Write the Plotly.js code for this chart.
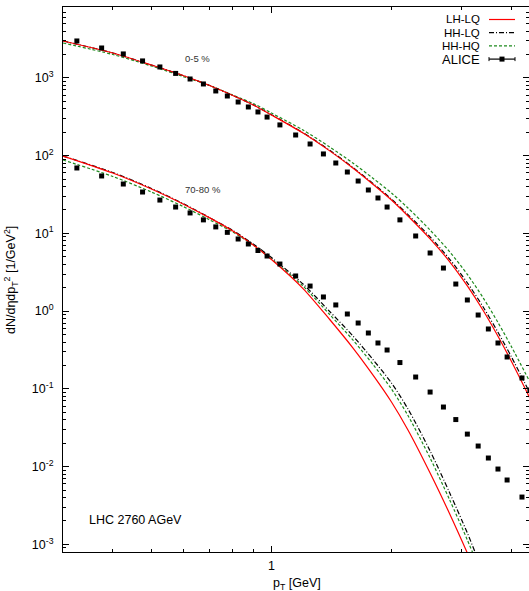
<!DOCTYPE html>
<html><head><meta charset="utf-8">
<script src="https://cdn.plot.ly/plotly-3.0.1.min.js"></script>
<style>html,body{margin:0;padding:0;background:#fff;overflow:hidden}</style>
</head><body><div id="chart" style="width:529px;height:591px"></div>
<script>
// ---------- data ----------
const pT_alice = [0.325,0.375,0.425,0.475,0.525,0.575,0.625,0.675,0.725,0.775,0.825,0.875,0.925,0.975,
  1.05,1.15,1.25,1.35,1.45,1.55,1.65,1.75,1.85,1.95,2.1,2.3,2.5,2.7,2.9,3.1,3.3,3.5,3.7,3.9,4.25,4.45];
const alice_0_5 = [2980,2420,2030,1650,1380,1140,966,834,678,584,489,422,364,313,
  248,184,141,105,80.3,61.5,47.1,36.1,28.5,21.8,14.9,9.25,5.59,3.58,2.23,1.39,0.891,0.589,0.389,0.257,0.138,0.0967];
const alice_70_80 = [69.3,54.7,43.1,34.0,26.8,21.8,18.3,14.9,12.1,10.3,8.46,7.30,6.02,5.11,
  4.03,2.83,2.10,1.52,1.20,0.918,0.703,0.523,0.389,0.316,0.218,0.142,0.091,0.0584,0.0403,0.0262,0.0184,0.0129,0.00931,0.00673,0.00406];

const pT_model_central = [0.3,0.4,0.5,0.6,0.7,0.8,0.9,1.0,1.2,1.4,1.6,1.8,2.0,2.2,2.5,2.8,3.1,3.4,3.7,4.0,4.45];
const lhlq_0_5 = [2980,2089,1463,1072,797,593,448,333,195,115,69.3,42.5,26.8,16.7,8.49,4.31,2.11,1.01,0.475,0.225,0.0759];
const hhlq_0_5 = [2980,2089,1463,1072,797,593,450,336,197,117,70.5,43.5,27.6,17.4,9.01,4.64,2.31,1.12,0.534,0.257,0.088];
const hhhq_0_5 = [2806,1995,1420,1040,797,600,468,353,213,129,80.3,50.8,33.0,21.2,11.0,5.79,2.96,1.47,0.714,0.348,0.1225];

const pT_model_periph = [0.3,0.4,0.5,0.6,0.7,0.8,0.9,1.0,1.2,1.4,1.6,1.8,2.0,2.2,2.5,2.8,3.1,3.3];
const lhlq_70_80 = [98.8,59.7,37.2,23.9,15.8,10.7,7.08,4.60,1.95,0.780,0.337,0.149,0.0678,0.0296,0.00828,0.00246,0.000774,0.000369];
const hhlq_70_80 = [98.8,60.6,37.8,24.2,15.9,10.9,7.30,4.88,2.23,0.988,0.481,0.236,0.119,0.0551,0.0159,0.00458,0.00140,0.000629];
const hhhq_70_80 = [87.8,53.9,34.0,22.2,14.9,10.4,7.08,4.67,2.10,0.904,0.427,0.204,0.0995,0.0454,0.0129,0.00372,0.00114,0.000527];

const seriesNames = ["LH-LQ","HH-LQ","HH-HQ","ALICE"];
const centralityLabels = ["0-5 %","70-80 %"];
const systemLabel = "LHC 2760 AGeV";
const xTickVals = [1];
const xTickText = ["1"];
const yExponents = [-3,-2,-1,0,1,2,3];

// ---------- styles ----------
const FONT = "Liberation Sans, Arial, Helvetica, sans-serif";
const RED = "#ff0000", BLACK = "#000000", GREEN = "#1e8a1e";
const DASHDOT = "5px,2px,1px,2px";
const DASH = "3px,2px";

const W = 529, H = 591, L = 63, R = 0, T = 7, B = 39;
const pw = W - L - R, ph = H - T - B;
const px2x = p => (p - L) / pw;
const py2y = p => 1 - (p - T) / ph;

function curve(x, y, color, dash) {
  return {x, y, type: "scatter", mode: "lines", showlegend: false,
    line: {color, width: 1.2, dash, shape: "spline", smoothing: 0.8}, hoverinfo: "skip"};
}
function pts(x, y) {
  return {x, y, type: "scatter", mode: "markers", showlegend: false,
    marker: {symbol: "square", size: 5, color: BLACK}, hoverinfo: "skip"};
}

const traces = [
  curve(pT_model_central, hhhq_0_5, GREEN, DASH),
  curve(pT_model_central, hhlq_0_5, BLACK, DASHDOT),
  curve(pT_model_central, lhlq_0_5, RED, "solid"),
  curve(pT_model_periph, hhhq_70_80, GREEN, DASH),
  curve(pT_model_periph, hhlq_70_80, BLACK, DASHDOT),
  curve(pT_model_periph, lhlq_70_80, RED, "solid"),
  pts(pT_alice, alice_0_5),
  pts(pT_alice.slice(0, alice_70_80.length), alice_70_80)
];

const yMinor = [];
for (let d = -4; d <= 3; d++) for (let k = 2; k <= 9; k++) yMinor.push(k * Math.pow(10, d));
const xMinor = [0.3,0.4,0.5,0.6,0.7,0.8,0.9,2,3,4];

// custom gnuplot-style legend (text left of sample)
const legRowsY = [19.5, 32.7, 45.9, 59.1];
const legColors = [RED, BLACK, GREEN, BLACK];
const legDash = ["solid", DASHDOT, DASH, "solid"];
const shapes = [];
const annotations = [];
function note(px, py, text, size, opts) {
  annotations.push(Object.assign({xref: "paper", yref: "paper", x: px2x(px), y: py2y(py),
    xanchor: "center", yanchor: "middle", showarrow: false, text,
    font: {family: FONT, size, color: "#000"}}, opts || {}));
}
seriesNames.forEach((n, i) => {
  note(481, legRowsY[i], n, i === 3 ? 13 : 11.5, {xanchor: "right", borderpad: 0});
  shapes.push({type: "line", xref: "paper", yref: "paper", x0: px2x(489), x1: px2x(515),
    y0: py2y(legRowsY[i]), y1: py2y(legRowsY[i]), line: {color: legColors[i], width: 1.2, dash: legDash[i]}});
});
// ALICE sample marker and end caps
shapes.push({type: "rect", xref: "paper", yref: "paper", x0: px2x(499.5), x1: px2x(504.5),
  y0: py2y(legRowsY[3] - 2.5), y1: py2y(legRowsY[3] + 2.5), fillcolor: BLACK, line: {width: 0}});
[489, 515].forEach(p => shapes.push({type: "line", xref: "paper", yref: "paper", x0: px2x(p), x1: px2x(p),
  y0: py2y(legRowsY[3] - 2), y1: py2y(legRowsY[3] + 2), line: {color: BLACK, width: 1}}));

note(197, 58, centralityLabels[0], 9.5, {font: {family: FONT, size: 9.5, color: "#333"}});
note(203, 189, centralityLabels[1], 9.5, {font: {family: FONT, size: 9.5, color: "#333"}});
note(87, 520, systemLabel, 12.5, {xanchor: "left"});
// axis titles
note(297, 584, "p<sub>T</sub> [GeV]", 12.5);
note(11, 280, "dN/dηdp<sub>T</sub><sup>2</sup> [1/GeV<sup>2</sup>]", 12.5, {textangle: -90});

const layout = {
  width: W, height: H,
  margin: {l: L, r: R, t: T, b: B, pad: 0},
  paper_bgcolor: "#fff", plot_bgcolor: "#fff",
  font: {family: FONT, size: 12.5, color: "#000"},
  showlegend: false,
  xaxis: {type: "log", range: [Math.log10(0.3), 0.646], showgrid: false, zeroline: false,
    showline: true, linecolor: "#000", linewidth: 1, mirror: "allticks",
    ticks: "inside", ticklen: 6, tickcolor: "#000", tickwidth: 1,
    tickmode: "array", tickvals: xTickVals, ticktext: xTickText, ticklabelstandoff: 2,
    minor: {tickmode: "array", tickvals: xMinor, ticks: "inside", ticklen: 3, tickcolor: "#000", showgrid: false},
    tickfont: {family: FONT, size: 12.5}},
  yaxis: {type: "log", range: [-3.098, 3.911], showgrid: false, zeroline: false,
    showline: true, linecolor: "#000", linewidth: 1, mirror: "allticks",
    ticks: "inside", ticklen: 6, tickcolor: "#000", tickwidth: 1,
    tickmode: "array", tickvals: yExponents.map(e => Math.pow(10, e)),
    ticktext: yExponents.map(e => "10<sup>" + e + "</sup>"), ticklabelstandoff: 6,
    minor: {tickmode: "array", tickvals: yMinor, ticks: "inside", ticklen: 3, tickcolor: "#000", showgrid: false},
    tickfont: {family: FONT, size: 12.5}},
  shapes, annotations
};

Plotly.newPlot("chart", traces, layout, {staticPlot: true, displayModeBar: false});
</script></body></html>
